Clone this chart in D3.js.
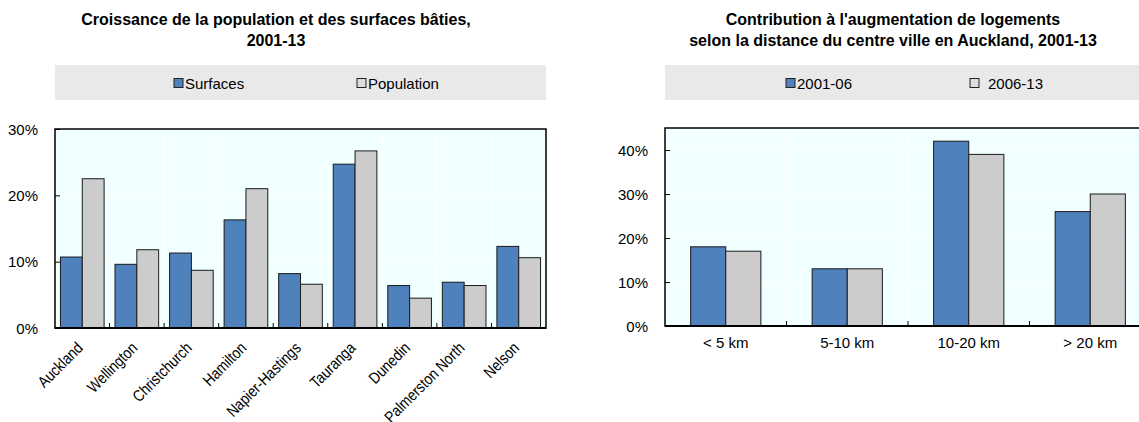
<!DOCTYPE html>
<html>
<head>
<meta charset="utf-8">
<script src="https://cdn.jsdelivr.net/npm/d3@7"></script>
<style>
  body { margin: 0; background: #fff; overflow: hidden; }
  svg { display: block; font-family: "Liberation Sans Narrow", "Arial Narrow", "Liberation Sans", Arial, sans-serif; }
</style>
</head>
<body>
<div id="chart"></div>
<script>
// Left panel data: growth 2001-13
const cities = ['Auckland', 'Wellington', 'Christchurch', 'Hamilton', 'Napier-Hastings', 'Tauranga', 'Dunedin', 'Palmerston North', 'Nelson'];
const surfaces = [10.7, 9.6, 11.3, 16.3, 8.2, 24.7, 6.4, 6.9, 12.3];
const population = [22.5, 11.8, 8.7, 21.0, 6.6, 26.7, 4.5, 6.4, 10.6];
const leftTicks = [0, 10, 20, 30];

// Right panel data: Auckland housing by distance
const distances = ['< 5 km', '5-10 km', '10-20 km', '> 20 km'];
const period0106 = [18, 13, 42, 26];
const period0613 = [17, 13, 39, 30];
const rightTicks = [0, 10, 20, 30, 40];

const width = 1139;
const height = 422;
const blue = '#4f81bd';
const grey = '#cccccc';

const svg = d3.select('#chart')
  .append('svg')
  .attr('width', width)
  .attr('height', height);

function drawPanel(p) {
  const g = svg.append('g');

  // title
  g.append('text')
    .attr('x', p.titleX)
    .attr('text-anchor', 'middle')
    .attr('font-weight', 'bold')
    .attr('font-size', 16)
    .selectAll('tspan')
    .data(p.title)
    .enter()
    .append('tspan')
    .attr('x', p.titleX)
    .attr('y', (d, i) => 25 + i * 21)
    .text(d => d);

  // legend band
  g.append('rect')
    .attr('x', p.left)
    .attr('y', 65)
    .attr('width', p.right - p.left)
    .attr('height', 35)
    .attr('fill', '#e9e9e9');

  p.legend.forEach((name, i) => {
    g.append('rect')
      .attr('x', p.legendX[i])
      .attr('y', 78.5)
      .attr('width', 9)
      .attr('height', 9)
      .attr('fill', i === 0 ? blue : '#dddddd')
      .attr('stroke', '#222')
      .attr('stroke-width', 1);
    g.append('text')
      .attr('x', p.legendX[i] + p.legendGap[i])
      .attr('y', 88.5)
      .attr('font-size', 15)
      .text(name);
  });

  const x = d3.scaleBand()
    .domain(p.categories)
    .range([p.left, p.right]);

  const x1 = d3.scaleBand()
    .domain([0, 1])
    .range([0, x.bandwidth()])
    .paddingOuter(p.outerPad)
    .paddingInner(0);

  const y = d3.scaleLinear()
    .domain([0, p.max])
    .range([p.bottom, p.top]);

  // plot background
  g.append('rect')
    .attr('x', p.left)
    .attr('y', p.top)
    .attr('width', p.right - p.left)
    .attr('height', p.bottom - p.top)
    .attr('fill', '#f0ffff');

  // white grid
  g.selectAll('.hgrid')
    .data(p.ticks.filter(t => t > 0))
    .enter()
    .append('line')
    .attr('x1', p.left)
    .attr('x2', p.right)
    .attr('y1', d => y(d))
    .attr('y2', d => y(d))
    .attr('stroke', '#ffffff')
    .attr('stroke-width', 1.2);

  g.selectAll('.vgrid')
    .data(p.categories.slice(1))
    .enter()
    .append('line')
    .attr('x1', d => x(d))
    .attr('x2', d => x(d))
    .attr('y1', p.top)
    .attr('y2', p.bottom)
    .attr('stroke', '#ffffff')
    .attr('stroke-width', 1.2);

  // bars
  const rows = p.categories.map((c, i) => ({ c, v: [p.series[0][i], p.series[1][i]] }));
  const groups = g.selectAll('.grp')
    .data(rows)
    .enter()
    .append('g')
    .attr('transform', d => `translate(${x(d.c)},0)`);

  groups.selectAll('rect')
    .data(d => d.v)
    .enter()
    .append('rect')
    .attr('x', (d, i) => x1(i))
    .attr('y', d => y(d))
    .attr('width', x1.bandwidth())
    .attr('height', d => y(0) - y(d))
    .attr('fill', (d, i) => i === 0 ? blue : grey)
    .attr('stroke', '#1a1a1a')
    .attr('stroke-width', 1);

  // small ticks between categories on the baseline
  g.selectAll('.xtick')
    .data(p.categories.slice(1))
    .enter()
    .append('line')
    .attr('x1', d => x(d))
    .attr('x2', d => x(d))
    .attr('y1', p.bottom)
    .attr('y2', p.bottom - 5)
    .attr('stroke', '#000')
    .attr('stroke-width', 1);

  // frame
  g.append('rect')
    .attr('x', p.left)
    .attr('y', p.top)
    .attr('width', p.right - p.left)
    .attr('height', p.bottom - p.top)
    .attr('fill', 'none')
    .attr('stroke', '#000')
    .attr('stroke-width', 1.5);

  g.append('line')
    .attr('x1', p.left)
    .attr('x2', p.right)
    .attr('y1', p.bottom)
    .attr('y2', p.bottom)
    .attr('stroke', '#000')
    .attr('stroke-width', 2.2);

  // y axis: ticks pointing inward, labels outside
  const yAxis = d3.axisRight(y)
    .tickValues(p.ticks)
    .tickSize(5)
    .tickFormat('');
  g.append('g')
    .attr('transform', `translate(${p.left},0)`)
    .call(yAxis)
    .call(a => a.select('.domain').remove())
    .call(a => a.selectAll('line').attr('stroke', '#000').attr('stroke-width', 1));

  g.selectAll('.ylab')
    .data(p.ticks)
    .enter()
    .append('text')
    .attr('x', p.left - 17)
    .attr('y', d => y(d) + 5.5)
    .attr('text-anchor', 'end')
    .attr('font-size', 15)
    .text(d => d + '%');

  // x labels (narrow look: squeeze along the baseline)
  if (p.rotate) {
    g.selectAll('.xlab')
      .data(p.categories)
      .enter()
      .append('text')
      .attr('text-anchor', 'end')
      .attr('font-size', 16)
      .attr('transform', d => `translate(${x(d) + x.bandwidth() / 2 + 1.5},${p.bottom + 21}) rotate(-45) scale(0.85,1)`)
      .text(d => d);
  } else {
    g.selectAll('.xlab')
      .data(p.categories)
      .enter()
      .append('text')
      .attr('x', d => x(d) + x.bandwidth() / 2)
      .attr('y', p.bottom + 22)
      .attr('text-anchor', 'middle')
      .attr('font-size', 15)
      .text(d => d);
  }
}

drawPanel({
  title: ['Croissance de la population et des surfaces bâties,', '2001-13'],
  titleX: 276,
  legend: ['Surfaces', 'Population'],
  legendX: [174, 357],
  legendGap: [11, 11],
  categories: cities,
  series: [surfaces, population],
  ticks: leftTicks,
  max: 30,
  left: 55, right: 546, top: 129, bottom: 328,
  outerPad: 0.25,
  rotate: true
});

drawPanel({
  title: ["Contribution à l'augmentation de logements", 'selon la distance du centre ville en Auckland, 2001-13'],
  titleX: 893,
  legend: ['2001-06', '2006-13'],
  legendX: [786, 970],
  legendGap: [11, 18],
  categories: distances,
  series: [period0106, period0613],
  ticks: rightTicks,
  max: 45,
  left: 665, right: 1151, top: 128, bottom: 326,
  outerPad: 0.73,
  rotate: false
});
</script>
</body>
</html>
